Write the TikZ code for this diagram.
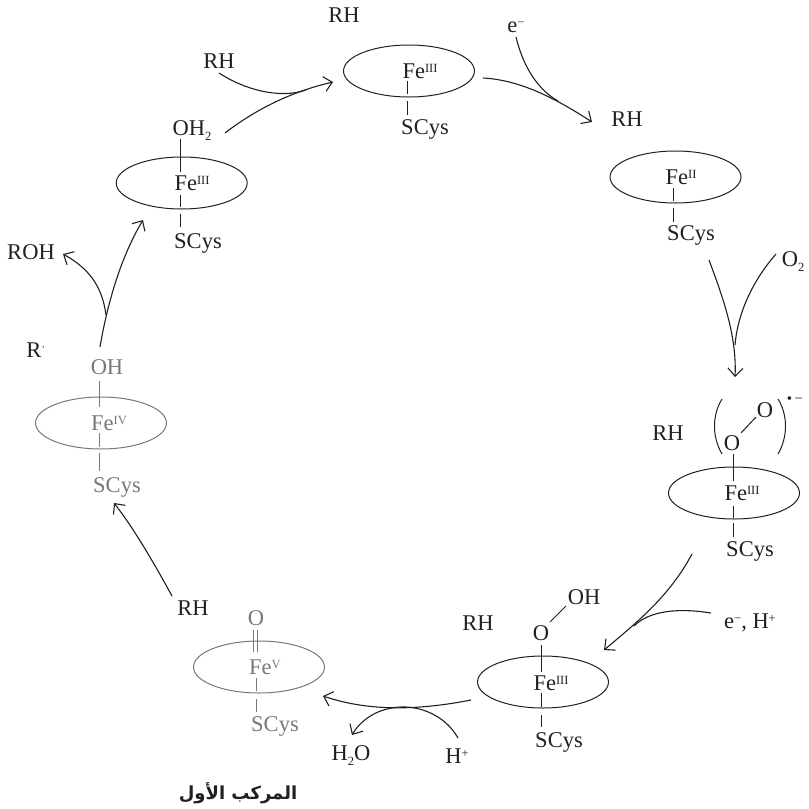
\documentclass[tikz,border=0pt]{standalone}
\usepackage{fontspec}
\usepackage{tikz}
\usetikzlibrary{arrows.meta,shapes.geometric}
\setmainfont{Liberation Serif}
\newfontfamily\arabicfont[Script=Arabic]{DejaVu Sans}
\TeXXeTstate=1
\definecolor{ink}{HTML}{231F20}
\definecolor{dim}{HTML}{77787B}
\newcommand{\Sup}[1]{\raisebox{6pt}{\fontsize{12.5}{12.5}\selectfont #1}}
\newcommand{\Sub}[1]{\raisebox{-4.5pt}{\fontsize{12.5}{12.5}\selectfont #1}}
\tikzset{
 lbl/.style={inner sep=0pt,text=ink,text height=15pt,text depth=0pt,font=\fontsize{22.5}{22.5}\selectfont},
 glbl/.style={lbl,text=dim},
 heme/.style={draw=ink,line width=1pt,ellipse,minimum width=131pt,minimum height=52pt,inner sep=0pt},
 gheme/.style={heme,draw=dim},
 bond/.style={draw=ink,line width=1pt},
 gbond/.style={draw=dim,line width=1pt},
 flow/.style={draw=ink,line width=1.1pt},
 tip/.style={flow,-{Straight Barb[length=8pt,width=15pt,line width=1.1pt]}},
}
\begin{document}
\begin{tikzpicture}[x=1pt,y=-1pt]
\useasboundingbox (0,0) rectangle (809,809);
% hemes
\node[heme] (h1) at (409,71) {};
\node[heme] (h2) at (675.5,177) {};
\node[heme] (h3) at (734,493) {};
\node[heme] (h4) at (543,682) {};
\node[gheme] (h5) at (259,667) {};
\node[gheme] (h6) at (101,423) {};
\node[heme] (h7) at (181.7,183) {};
% top
\node[lbl] (rh1) at (344,15) {RH};
\node[lbl] (rh1b) at (219,61) {RH};
\node[lbl] (fe1) at (420,71) {Fe\Sup{III}};
\node[lbl] (s1) at (425,127) {SCys};
\node[lbl] (em1) at (516,25) {e\Sup{−}};
\node[lbl] (rh2) at (627,119) {RH};
% Fe II
\node[lbl] (fe2) at (681,177) {Fe\Sup{II}};
\node[lbl] (s2) at (691,233) {SCys};
\node[lbl] (o2) at (793,259) {O\Sub{2}};
% superoxide
\node[lbl] (rh3) at (668,433) {RH};
\node[lbl] (o3a) at (732,443) {O};
\node[lbl] (o3b) at (765,410) {O};
\node[lbl] (fe3) at (742,493) {Fe\Sup{III}};
\node[lbl] (s3) at (750,549) {SCys};
\node[inner sep=0pt,text=ink,font=\fontsize{15}{15}\selectfont] (rad) at (795,400) {•\,−};
% hydroperoxo
\node[lbl] (rh4) at (478,623) {RH};
\node[lbl] (o4a) at (541,633) {O};
\node[lbl] (o4b) at (584,597) {OH};
\node[lbl] (fe4) at (551,683) {Fe\Sup{III}};
\node[lbl] (s4) at (559,740) {SCys};
\node[lbl] (eh) at (750,621) {e\Sup{−}, H\Sup{+}};
\node[lbl] (hp) at (457,756) {H\Sup{+}};
\node[lbl] (h2o) at (351,753) {H\Sub{2}O};
% compound I
\node[lbl] (rh5) at (193,608) {RH};
\node[glbl] (o5) at (256,618) {O};
\node[glbl] (fe5) at (265,667) {Fe\Sup{V}};
\node[glbl] (s5) at (275,724) {SCys};
\node[inner sep=0pt,text=ink,font=\fontsize{18}{18}\selectfont\bfseries] (cpd) at (238,793) {\arabicfont\beginR المركب الأول\endR};
% compound II
\node[lbl] (rr) at (36,350) {R\Sup{·}};
\node[glbl] (oh6) at (107,367) {OH};
\node[glbl] (fe6) at (109,423) {Fe\Sup{IV}};
\node[glbl] (s6) at (117,485) {SCys};
\node[lbl] (roh) at (31,252) {ROH};
% aqua
\node[lbl] (oh7) at (192,128) {OH\Sub{2}};
\node[lbl] (fe7) at (192,183) {Fe\Sup{III}};
\node[lbl] (s7) at (198,241) {SCys};
% bonds
\draw[bond] (407,81) -- (407,94) (407,101) -- (407,115);
\draw[bond] (673,188) -- (673,201) (673,208) -- (673,222);
\draw[bond] (733,454) -- (733,481) (733,506) -- (733,518) (733,523) -- (733,537);
\draw[bond] (741,433) -- (756,417);
\draw[bond] (541.7,645) -- (541.7,672) (541.7,693) -- (541.7,707) (541.7,715) -- (541.7,727);
\draw[bond] (550,622) -- (566,606);
\draw[gbond] (253.5,630) -- (253.5,652) (257.5,630) -- (257.5,652);
\draw[gbond] (256,678) -- (256,691) (256,699) -- (256,712);
\draw[gbond] (99,381) -- (99,407) (99,433) -- (99,447) (99,453) -- (99,471);
\draw[bond] (180,139) -- (180,172) (180,195) -- (180,207) (180,214) -- (180,227);
% brackets
\draw[bond] (722,399) .. controls (712,415) and (712,437) .. (722,454);
\draw[bond] (778,399) .. controls (788,415) and (788,437) .. (778,454);
% flows
\draw[tip] (225,133) .. controls (255,110) and (290,92) .. (333,82);
\draw[flow] (219,73) .. controls (245,90) and (280,99) .. (306,90);
\draw[tip] (483,78) .. controls (520,80) and (555,98) .. (592,122);
\draw[flow] (516,37) .. controls (522,62) and (535,88) .. (558,101);
\draw[tip] (709,260) .. controls (722,295) and (737,335) .. (735,377);
\draw[flow] (776,254) .. controls (755,278) and (738,310) .. (735,345);
\draw[tip] (692,554) .. controls (670,595) and (640,620) .. (604,650);
\draw[flow] (711,613) .. controls (680,608) and (650,610) .. (634,626);
\draw[tip] (471,700) .. controls (420,710) and (370,712) .. (323,696);
\draw[tip] (458,738) .. controls (445,715) and (420,706) .. (400,707) .. controls (380,708) and (362,718) .. (352,735);
\draw[tip] (172,596) .. controls (155,565) and (135,530) .. (114,503);
\draw[tip] (100,347) .. controls (108,300) and (122,255) .. (143,220);
\draw[tip] (106,315) .. controls (102,285) and (88,268) .. (63,254);
\end{tikzpicture}
\end{document}
